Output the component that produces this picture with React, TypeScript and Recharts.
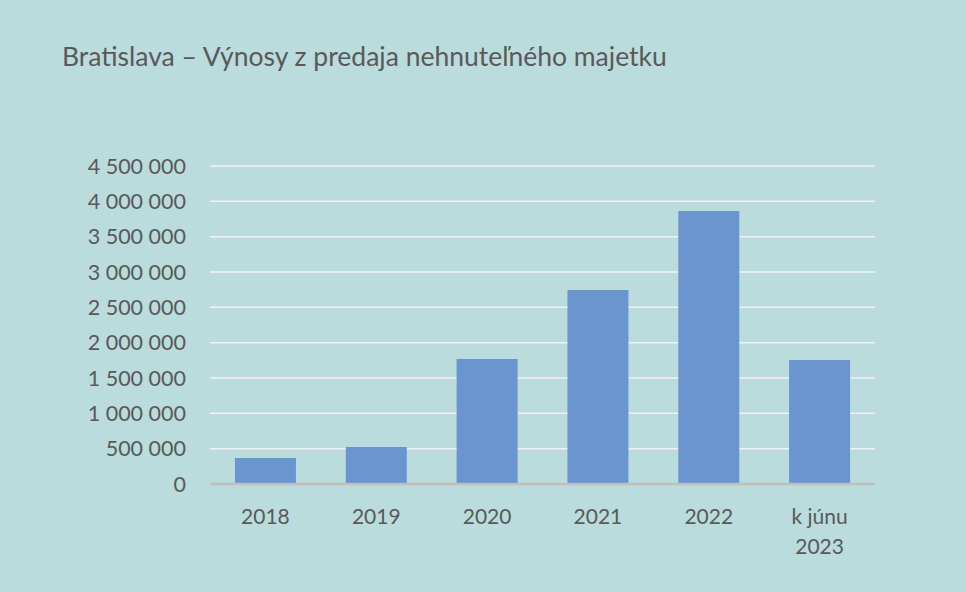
import React from "react";
import { BarChart, Bar, XAxis, YAxis, CartesianGrid } from "recharts";

const categories = ["2018", "2019", "2020", "2021", "2022", "k júnu\n2023"];
const revenues = [368000, 524000, 1769000, 2745000, 3863000, 1755000];
const yTicks = [0, 500000, 1000000, 1500000, 2000000, 2500000, 3000000, 3500000, 4000000, 4500000];

const data = categories.map((c, i) => ({ name: c, value: revenues[i] }));

const FONT = "Lato, 'Open Sans', sans-serif";
const TEXT = "#595959";

const fmt = (v: number) => v.toString().replace(/\B(?=(\d{3})+(?!\d))/g, " ");

function XTick(props: any) {
    const { x, y, payload } = props;
    const lines = String(payload.value).split("\n");
    return (
        <g transform={`translate(${x},${y})`}>
            {lines.map((l: string, i: number) => (
                <text
                    key={i}
                    x={0}
                    y={i * 30}
                    dy={32}
                    textAnchor="middle"
                    fill={TEXT}
                    fontSize={21}
                    fontFamily={FONT}
                >
                    {l}
                </text>
            ))}
        </g>
    );
}

export default function App() {
    return (
        <div style={{
            position: "absolute",
            left: 0,
            top: 0,
            width: 966,
            height: 592,
            background: "#badcdc",
            fontFamily: FONT,
        }}>
            <div style={{
                position: "absolute",
                left: 62,
                top: 40,
                fontSize: 26.5,
                color: TEXT,
                whiteSpace: "nowrap",
            }}>
                Bratislava – Výnosy z predaja nehnuteľného majetku
            </div>
            <BarChart
                width={966}
                height={592}
                data={data}
                margin={{ top: 166, right: 91, bottom: 48, left: 0 }}
                barCategoryGap="22.5%"
            >
                <CartesianGrid vertical={false} stroke="#f2f2f2" strokeWidth={1.5} />
                <XAxis
                    dataKey="name"
                    interval={0}
                    height={60}
                    tick={<XTick />}
                    tickLine={false}
                    axisLine={{ stroke: "#bfbfbf", strokeWidth: 2.5 }}
                />
                <YAxis
                    width={210}
                    domain={[0, 4500000]}
                    ticks={yTicks}
                    interval={0}
                    tickFormatter={fmt}
                    tick={{ fontSize: 21.5, fill: TEXT, fontFamily: FONT }}
                    tickMargin={18}
                    axisLine={false}
                    tickLine={false}
                />
                <Bar dataKey="value" fill="#6a95cf" isAnimationActive={false} />
            </BarChart>
        </div>
    );
}
